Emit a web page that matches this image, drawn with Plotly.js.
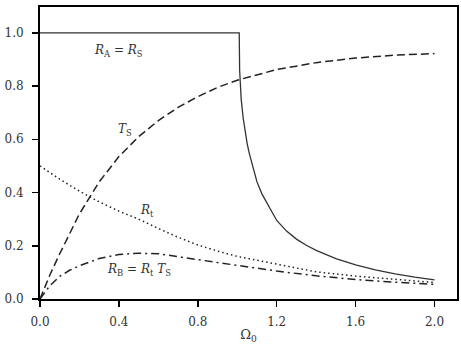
<!DOCTYPE html>
<html>
<head>
<meta charset="utf-8">
<script src="https://cdn.plot.ly/plotly-3.0.1.min.js"></script>
<style>html,body{margin:0;padding:0;background:#fff;}#chart{width:461px;height:344px;}</style>
</head>
<body>
<div id="chart"></div>
<script>
// R_A = R_S (solid)
const omegaRA = [0, 0.5, 1.01, 1.012, 1.02, 1.03, 1.04, 1.05, 1.06, 1.08, 1.1, 1.125, 1.15, 1.175, 1.2, 1.25, 1.3, 1.35, 1.4, 1.5, 1.6, 1.7, 1.8, 1.9, 2.0];
const valRA   = [1.0, 1.0, 1.0, 0.86, 0.75, 0.68, 0.625, 0.585, 0.55, 0.49, 0.44, 0.395, 0.36, 0.325, 0.295, 0.255, 0.225, 0.202, 0.183, 0.152, 0.128, 0.109, 0.094, 0.082, 0.072];

// T_S (dashed)
const omegaTS = [0, 0.05, 0.1, 0.15, 0.2, 0.25, 0.3, 0.4, 0.5, 0.6, 0.7, 0.8, 0.9, 1.0, 1.2, 1.4, 1.6, 1.8, 2.0];
const valTS   = [0, 0.09, 0.17, 0.245, 0.32, 0.38, 0.44, 0.535, 0.61, 0.67, 0.72, 0.76, 0.795, 0.822, 0.862, 0.888, 0.905, 0.916, 0.922];

// R_t (dotted)
const omegaRt = [0, 0.1, 0.2, 0.3, 0.4, 0.5, 0.6, 0.7, 0.8, 0.9, 1.0, 1.2, 1.4, 1.6, 1.8, 2.0];
const valRt   = [0.5, 0.45, 0.405, 0.365, 0.33, 0.30, 0.265, 0.232, 0.203, 0.18, 0.16, 0.13, 0.102, 0.086, 0.073, 0.062];

// R_B = R_t T_S (dash-dot)
const omegaRB = [0, 0.05, 0.1, 0.15, 0.2, 0.3, 0.4, 0.5, 0.6, 0.7, 0.8, 0.9, 1.0, 1.2, 1.4, 1.6, 1.8, 2.0];
const valRB   = [0, 0.05, 0.085, 0.108, 0.125, 0.152, 0.167, 0.172, 0.17, 0.16, 0.148, 0.137, 0.126, 0.105, 0.087, 0.073, 0.063, 0.055];

const xTicks = [0, 0.4, 0.8, 1.2, 1.6, 2.0];
const xTickLabels = ['0.0', '0.4', '0.8', '1.2', '1.6', '2.0'];
const yTicks = [0, 0.2, 0.4, 0.6, 0.8, 1.0];
const yTickLabels = ['0.0', '0.2', '0.4', '0.6', '0.8', '1.0'];

const labelTexts = ['<i>R</i><sub>A</sub> = <i>R</i><sub>S</sub>', '<i>T</i><sub>S</sub>', '<i>R</i><sub>t</sub>', '<i>R</i><sub>B</sub> = <i>R</i><sub>t</sub> <i>T</i><sub>S</sub>'];
const labelX = [0.4, 0.43, 0.54, 0.5];
const labelY = [0.93, 0.635, 0.33, 0.11];

const serif = 'DejaVu Serif, Liberation Serif, serif';

const traces = [
  {x: omegaRA, y: valRA, mode: 'lines', line: {color: '#333', width: 1.3}},
  {x: omegaTS, y: valTS, mode: 'lines', line: {color: '#222', width: 1.5, dash: '8px,4px'}},
  {x: omegaRt, y: valRt, mode: 'lines', line: {color: '#222', width: 1.5, dash: '1.5px,3px'}},
  {x: omegaRB, y: valRB, mode: 'lines', line: {color: '#222', width: 1.5, dash: '8px,4px,2px,4px'}}
];

const annotations = labelTexts.map((t, i) => ({
  x: labelX[i], y: labelY[i], xref: 'x', yref: 'y', text: t, showarrow: false,
  font: {family: serif, size: 12, color: '#333'}
}));

const layout = {
  width: 461, height: 344,
  margin: {l: 40, r: 4, t: 7, b: 44.5},
  paper_bgcolor: '#fff', plot_bgcolor: '#fff',
  showlegend: false,
  font: {family: serif, size: 12, color: '#333'},
  xaxis: {
    range: [0, 2.114], tickvals: xTicks, ticktext: xTickLabels,
    ticks: 'outside', ticklen: 6, tickwidth: 1.5, tickcolor: '#000',
    showline: true, linewidth: 2, linecolor: '#000', mirror: true,
    showgrid: false, zeroline: false, ticklabelstandoff: 5,
    title: {text: 'Ω<sub>0</sub>', standoff: 12, font: {family: serif, size: 13, color: '#333'}}
  },
  yaxis: {
    range: [0, 1.097], tickvals: yTicks, ticktext: yTickLabels,
    ticks: 'outside', ticklen: 6, tickwidth: 1.5, tickcolor: '#000',
    showline: true, linewidth: 2, linecolor: '#000', mirror: true,
    showgrid: false, zeroline: false, ticklabelstandoff: 6
  },
  annotations: annotations
};

Plotly.newPlot('chart', traces, layout, {staticPlot: true, displayModeBar: false});
</script>
</body>
</html>
